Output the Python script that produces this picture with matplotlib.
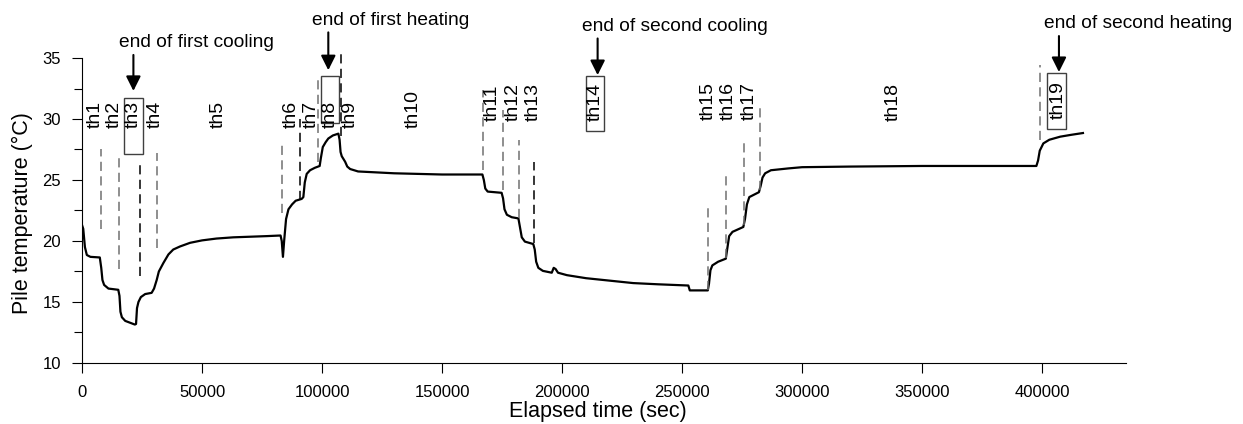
import matplotlib
matplotlib.use('Agg')
import matplotlib.pyplot as plt
from matplotlib.patches import Rectangle

plt.rcParams['font.family'] = ['Liberation Sans', 'DejaVu Sans']

# Pile temperature record
time_s = [0, 500, 1200, 2000, 3500, 7400, 8000, 8500, 9200, 11000, 15100, 15600,
          16000, 16600, 18000, 20000, 22000, 22500, 22900, 23500, 24500, 26300,
          29000, 30000, 31100, 32000, 33900, 36000, 38000, 40800, 45000, 50000,
          56000, 63000, 70000, 77000, 82700, 83200, 83700, 84200, 85000, 86000,
          87500, 89000, 91500, 92200, 92800, 93600, 95000, 97000, 99000, 99500,
          100300, 101500, 102600, 104500, 106800, 107300, 107700, 108200, 109600,
          110500, 111700, 115000, 120000, 130000, 140000, 150000, 166800, 167400,
          168000, 169000, 174800, 175400, 176000, 177000, 179000, 181800, 182400,
          183200, 184500, 188000, 188600, 189200, 190100, 192000, 195700, 196500,
          197300, 198300, 202000, 210000, 220000, 229600, 240000, 252600, 253200,
          260700, 261200, 261800, 262600, 265000, 268200, 268900, 269600, 271000,
          275500, 276200, 277000, 278000, 282000, 282700, 283500, 284600, 287000,
          294300, 300000, 320000, 350000, 380000, 397600, 398300, 399000, 400500,
          403000, 407500, 412000, 417000]
temp_c = [21.3, 21.0, 19.5, 18.85, 18.7, 18.65, 17.8, 16.8, 16.4, 16.1, 16.0, 15.5,
          14.2, 13.75, 13.45, 13.3, 13.15, 13.2, 14.5, 15.0, 15.4, 15.65,
          15.75, 16.1, 16.8, 17.5, 18.2, 18.9, 19.3, 19.55, 19.85, 20.05,
          20.2, 20.3, 20.35, 20.4, 20.45, 20.0, 18.7, 20.0, 21.8, 22.6,
          23.0, 23.3, 23.45, 23.6, 24.8, 25.5, 25.8, 26.0, 26.15, 26.8,
          27.7, 28.1, 28.4, 28.65, 28.8, 28.3, 27.3, 26.95, 26.5,
          26.1, 25.9, 25.7, 25.65, 25.55, 25.5, 25.45, 25.45, 25.0,
          24.3, 24.05, 23.95, 23.5, 22.6, 22.15, 21.95, 21.85, 21.2,
          20.3, 19.95, 19.75, 19.3, 18.3, 17.8, 17.55, 17.4, 17.8,
          17.7, 17.4, 17.2, 16.95, 16.75, 16.55, 16.45, 16.35, 15.95,
          15.95, 16.5, 17.6, 18.0, 18.3, 18.55, 19.5, 20.4, 20.75,
          21.15, 21.8, 23.0, 23.6, 24.0, 24.5, 25.2, 25.55, 25.8,
          25.95, 26.05, 26.1, 26.15, 26.15, 26.15, 26.6, 27.4, 28.0,
          28.3, 28.55, 28.7, 28.85]

# period labels th1..th19
th_names = ['th%d' % i for i in range(1, 20)]
th_x = [5400, 13300, 21400, 30700, 56800, 87000, 95700, 103300, 111700, 138000,
        170700, 179700, 188000, 213700, 261000, 269300, 278000, 337800, 406800]
th_y = [29.3, 29.3, 29.3, 29.3, 29.3, 29.3, 29.3, 29.3, 29.3, 29.3,
        29.8, 29.8, 29.8, 29.8, 29.9, 29.9, 29.9, 29.8, 30.0]

# dashed separators: x, bottom, top, colour
sep_x = [7800, 15500, 24300, 31400, 83300, 90600, 98300, 108000, 167200, 175200,
         182000, 188400, 260700, 268200, 275600, 282300, 399000]
sep_lo = [21.0, 17.7, 17.1, 19.4, 22.3, 23.4, 26.5, 28.6, 25.8, 24.2,
          21.9, 19.8, 16.0, 18.6, 21.3, 24.2, 28.3]
sep_hi = [27.5, 27.0, 26.4, 27.2, 27.9, 30.0, 33.5, 35.65, 32.4, 30.7,
          28.3, 26.5, 23.1, 25.55, 28.15, 31.15, 34.4]
sep_col = ['#707070', '#707070', 'black', '#707070', '#707070', 'black', '#707070',
           'black', '#707070', '#707070', '#707070', 'black', '#707070', '#707070',
           '#707070', '#707070', '#707070']

# boxed periods: x0, x1, y0, y1
box_x0 = [17500, 99450, 209900, 401900]
box_x1 = [25540, 107200, 217600, 409800]
box_y0 = [27.1, 29.7, 29.0, 29.2]
box_y1 = [31.7, 33.5, 33.5, 33.8]

# annotations
ann_text = ['end of first cooling', 'end of first heating',
            'end of second cooling', 'end of second heating']
ann_tx = [47800, 128700, 247100, 440100]
ann_ty = [36.25, 38.1, 37.6, 37.85]
arr_x = [21400, 102600, 214800, 407000]
arr_top = [35.25, 37.1, 36.6, 36.8]
arr_tip = [32.3, 34.0, 33.6, 33.85]

fig = plt.figure(figsize=(12.43, 4.24), dpi=100)
ax = fig.add_axes([0.066, 0.1439, 0.84, 0.7193])

ax.plot(time_s, temp_c, color='black', linewidth=1.6)

for x, lo, hi, c in zip(sep_x, sep_lo, sep_hi, sep_col):
    ax.plot([x, x], [lo, hi], color=c, linewidth=1.1, linestyle=(0, (6, 3.5)),
            clip_on=False)

for name, x, y in zip(th_names, th_x, th_y):
    ax.text(x, y, name, rotation=90, ha='center', va='bottom', fontsize=14)

for x0, x1, y0, y1 in zip(box_x0, box_x1, box_y0, box_y1):
    ax.add_patch(Rectangle((x0, y0), x1 - x0, y1 - y0, fill=False,
                           edgecolor='#404040', linewidth=1.0, clip_on=False))

for t, tx, ty, ax_, top, tip in zip(ann_text, ann_tx, ann_ty, arr_x, arr_top, arr_tip):
    ax.text(tx, ty, t, ha='center', va='center', fontsize=13.8, clip_on=False)
    ax.annotate('', xy=(ax_, tip), xytext=(ax_, top), annotation_clip=False,
                arrowprops=dict(arrowstyle='-|>', color='black', lw=1.5,
                                mutation_scale=22, shrinkA=0, shrinkB=0))

ax.set_xlim(0, 435000)
ax.set_ylim(10, 35)
ax.set_xticks([0, 50000, 100000, 150000, 200000, 250000, 300000, 350000, 400000])
ax.set_yticks([10, 15, 20, 25, 30, 35])
ax.set_yticks([12.5, 17.5, 22.5, 27.5, 32.5], minor=True)
ax.tick_params(axis='both', which='major', labelsize=12, length=7, width=0.8,
               direction='out')
ax.tick_params(axis='x', pad=9)
ax.tick_params(axis='y', pad=8)
ax.tick_params(axis='y', which='minor', length=6, width=0.8)

ax.spines['top'].set_visible(False)
ax.spines['right'].set_visible(False)
ax.spines['left'].set_linewidth(0.8)
ax.spines['bottom'].set_linewidth(0.8)

ax.set_xlabel('Elapsed time (sec)', fontsize=15.5)
ax.set_ylabel('Pile temperature (\u00b0C)', fontsize=15.5)
ax.xaxis.set_label_coords(0.494, -0.125)
ax.yaxis.set_label_coords(-0.047, 0.49)

fig.savefig('out.png', dpi=100)
